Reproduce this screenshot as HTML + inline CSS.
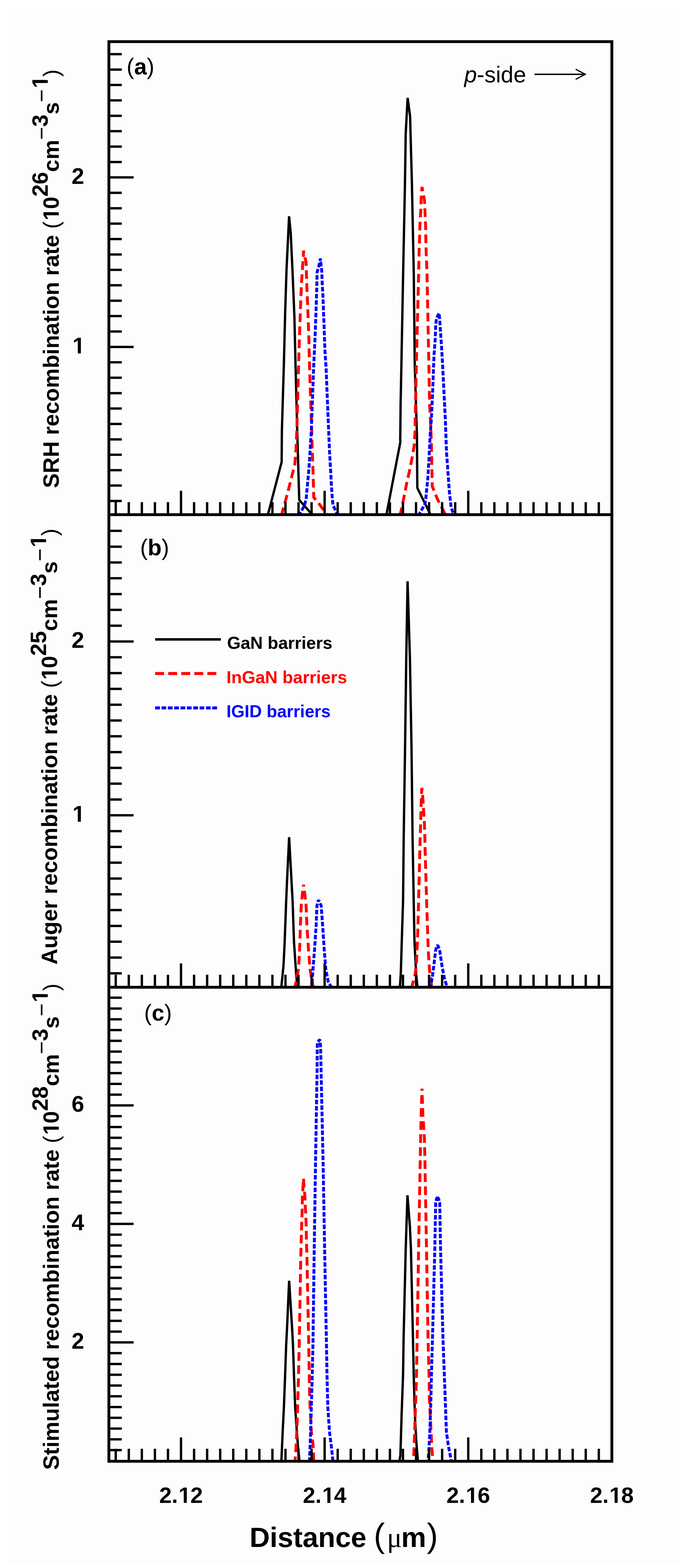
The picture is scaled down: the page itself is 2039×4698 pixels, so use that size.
<!DOCTYPE html>
<html><head><meta charset="utf-8"><title>Recombination rates</title>
<style>html,body{margin:0;padding:0;background:#fff;overflow:hidden;}svg{display:block;}</style>
</head><body>
<svg width="2039" height="4698" viewBox="0 0 2039 4698">
<rect width="100%" height="100%" fill="#fff"/>
<rect x="25" y="25" width="2009" height="4663" fill="#fdfdfd"/>
<defs>
<clipPath id="clipa"><rect x="326.0" y="124.8" width="1506.0" height="1417.2"/></clipPath>
<clipPath id="clipb"><rect x="326.0" y="1542.0" width="1506.0" height="1416.0"/></clipPath>
<clipPath id="clipc"><rect x="326.0" y="2958.0" width="1506.0" height="1420.1999999999998"/></clipPath>
</defs>
<g clip-path="url(#clipa)">
<polyline points="801.1,1546.0 843.3,1384.2 844.0,1290.0 849.7,1100.0 854.0,929.0 858.0,805.0 865.6,648.0 870.6,700.5 876.4,825.7 881.5,949.0 885.0,1100.0 889.9,1290.0 895.9,1497.7 938.2,1546.0" stroke="#000" stroke-width="7" fill="none" stroke-linejoin="bevel"/>
<polyline points="1156.2,1546.0 1157.8,1537.9 1198.8,1324.0 1198.3,1319.4 1199.5,1210.7 1201.9,1090.0 1207.0,820.0 1212.5,550.0 1214.7,400.7 1220.5,293.3 1227.8,347.6 1233.3,550.0 1238.9,820.0 1241.8,1090.0 1245.4,1210.7 1248.3,1300.0 1249.5,1461.8 1287.0,1537.9 1291.0,1546.0" stroke="#000" stroke-width="7" fill="none" stroke-linejoin="bevel"/>
<polyline points="843.0,1546.0 845.2,1533.9 854.9,1500.0 864.5,1463.9 875.4,1420.4 882.6,1391.4 886.3,1345.5 888.7,1290.0 893.9,1100.0 894.9,1062.0 898.0,969.7 901.0,887.4 903.0,843.6 905.2,812.0 906.3,792.0 908.6,772.0 908.6,751.0 912.5,768.0 916.4,785.5 917.5,821.0 918.6,854.8 921.7,928.6 924.7,1011.0 926.8,1100.0 933.3,1290.0 934.6,1338.3 937.0,1406.0 938.2,1444.6 939.4,1490.4 953.9,1507.3 966.0,1524.2 975.6,1536.3 983.0,1546.0" stroke="#ff0000" stroke-width="8.6" fill="none" stroke-dasharray="26 13.1" stroke-linejoin="bevel"/>
<polyline points="1197.4,1546.0 1198.8,1539.0 1201.2,1529.4 1209.7,1488.4 1216.9,1452.0 1225.4,1413.5 1233.8,1372.4 1239.9,1336.0 1242.3,1300.0 1244.2,1210.7 1246.6,1090.0 1253.4,820.0 1255.0,748.0 1256.3,709.4 1257.5,670.7 1259.9,632.0 1261.0,593.5 1263.5,560.0 1266.5,578.0 1270.7,598.3 1272.7,639.4 1274.4,678.0 1275.0,716.6 1276.0,755.3 1277.5,794.0 1278.5,820.0 1284.0,1090.0 1286.4,1210.7 1290.0,1283.0 1292.0,1348.0 1294.2,1457.0 1308.7,1493.0 1330.4,1535.4 1335.3,1546.0" stroke="#ff0000" stroke-width="8.6" fill="none" stroke-dasharray="26 13.1" stroke-linejoin="bevel"/>
<polyline points="893.8,1546.0 900.7,1533.9 910.4,1517.0 916.4,1497.7 920.0,1459.0 924.9,1406.0 928.5,1350.4 932.1,1290.0 939.1,1100.0 943.3,1011.0 946.3,928.6 948.4,866.9 949.4,815.4 954.6,797.0 959.6,774.3 961.0,792.0 963.4,812.0 964.5,843.6 966.9,887.4 970.0,969.7 973.0,1052.0 976.2,1100.0 984.0,1290.0 986.5,1350.4 990.0,1410.7 992.5,1459.0 995.0,1495.3 997.3,1514.6 1007.0,1533.9 1012.0,1546.0" stroke="#0000ff" stroke-width="8.6" fill="none" stroke-dasharray="13.6 5.2" stroke-linejoin="bevel"/>
<polyline points="1252.0,1546.0 1258.0,1535.4 1272.5,1510.0 1274.9,1493.2 1281.0,1432.8 1284.6,1372.4 1288.2,1300.0 1291.3,1259.0 1294.9,1186.6 1298.5,1090.0 1299.7,1061.5 1303.3,1013.0 1304.5,974.5 1307.0,952.8 1314.7,938.3 1316.6,957.6 1317.8,977.0 1320.2,1013.0 1322.7,1049.4 1325.0,1090.0 1329.9,1186.6 1333.5,1259.0 1336.0,1331.5 1337.2,1360.0 1340.0,1396.6 1345.0,1469.0 1351.0,1522.2 1355.8,1534.0 1360.0,1546.0" stroke="#0000ff" stroke-width="8.6" fill="none" stroke-dasharray="13.6 5.2" stroke-linejoin="bevel"/>
</g>
<g clip-path="url(#clipb)">
<polyline points="841.9,2963.0 842.8,2953.6 848.8,2893.2 852.4,2820.7 856.8,2700.0 859.4,2640.0 865.7,2508.3 872.8,2640.0 876.1,2700.0 880.2,2820.7 885.0,2893.0 888.7,2941.5 890.5,2963.0" stroke="#000" stroke-width="7" fill="none" stroke-linejoin="bevel"/>
<polyline points="1197.0,2963.0 1197.6,2953.6 1200.0,2917.3 1203.7,2796.6 1206.8,2700.0 1208.7,2510.0 1212.8,2240.0 1216.4,1970.0 1220.3,1741.5 1227.3,1970.0 1232.1,2240.0 1235.3,2510.0 1238.7,2700.0 1241.0,2820.7 1246.0,2917.3 1249.5,2953.6 1250.4,2963.0" stroke="#000" stroke-width="7" fill="none" stroke-linejoin="bevel"/>
<polyline points="908.7,2651.0 905.0,2682.0 902.0,2712.0 899.5,2772.4 897.1,2845.0 893.5,2905.3 883.8,2953.6 881.9,2963.0" stroke="#ff0000" stroke-width="8.6" fill="none" stroke-dasharray="26 13.1" stroke-linejoin="bevel" stroke-dashoffset="21.0"/>
<polyline points="908.7,2651.0 913.0,2682.0 916.4,2712.0 918.9,2772.4 923.7,2845.0 928.5,2905.3 937.0,2953.6 938.7,2963.0" stroke="#ff0000" stroke-width="8.6" fill="none" stroke-dasharray="26 13.1" stroke-linejoin="bevel" stroke-dashoffset="21.0"/>
<polyline points="908.1,2656.0 908.7,2651.0 909.4,2656.0" stroke="#ff0000" stroke-width="8.6" fill="none" stroke-linejoin="bevel" />
<polyline points="1231.3,2963.0 1233.8,2953.6 1243.5,2917.3 1247.0,2881.0 1250.7,2796.6 1251.5,2770.0 1257.5,2530.0 1258.7,2493.6 1259.9,2450.0 1261.0,2409.0 1263.0,2360.7 1265.9,2389.7 1268.3,2428.4 1270.7,2464.6 1272.0,2505.6 1272.7,2540.0 1277.3,2700.0 1279.7,2772.4 1282.1,2845.0 1285.8,2905.3 1289.4,2929.4 1293.0,2963.0" stroke="#ff0000" stroke-width="8.6" fill="none" stroke-dasharray="26 13.1" stroke-linejoin="bevel"/>
<polyline points="953.4,2696.7 951.5,2704.0 949.0,2713.0 946.6,2772.4 941.8,2845.0 937.0,2905.3 934.6,2941.5 933.2,2963.0" stroke="#0000ff" stroke-width="8.6" fill="none" stroke-dasharray="13.6 5.2" stroke-linejoin="bevel" stroke-dashoffset="7.8"/>
<polyline points="953.4,2696.7 957.0,2704.0 961.6,2713.0 966.0,2772.4 970.8,2845.0 975.6,2905.3 982.8,2941.5 990.0,2953.6 995.6,2963.0" stroke="#0000ff" stroke-width="8.6" fill="none" stroke-dasharray="13.6 5.2" stroke-linejoin="bevel" stroke-dashoffset="7.8"/>
<polyline points="951.9,2702.3 953.4,2696.7 956.0,2701.9" stroke="#0000ff" stroke-width="8.6" fill="none" stroke-linejoin="bevel" />
<polyline points="1287.5,2963.0 1289.4,2953.6 1294.2,2929.4 1299.0,2893.2 1303.9,2849.7 1306.5,2838.0 1310.0,2831.6 1313.5,2838.0 1317.2,2852.0 1323.2,2893.2 1330.4,2929.4 1336.5,2951.0 1339.0,2963.0" stroke="#0000ff" stroke-width="8.6" fill="none" stroke-dasharray="13.6 5.2" stroke-linejoin="bevel"/>
</g>
<g clip-path="url(#clipc)">
<polyline points="842.4,4380.0 842.8,4371.0 846.4,4289.0 850.0,4216.6 853.7,4120.0 856.8,4030.0 859.4,3980.0 865.7,3837.3 874.6,3980.0 877.2,4030.0 880.2,4120.0 883.8,4216.6 888.7,4289.0 893.5,4349.4 896.0,4371.0 897.0,4380.0" stroke="#000" stroke-width="7" fill="none" stroke-linejoin="bevel"/>
<polyline points="1196.8,4380.0 1197.0,4371.0 1198.8,4361.5 1202.4,4240.7 1206.8,4120.0 1208.4,4010.0 1214.8,3740.0 1220.0,3581.0 1227.3,3675.3 1230.3,3740.0 1236.5,4010.0 1238.7,4120.0 1242.3,4240.7 1246.0,4313.2 1250.7,4371.0 1251.4,4380.0" stroke="#000" stroke-width="7" fill="none" stroke-linejoin="bevel"/>
<polyline points="883.3,4380.0 883.8,4371.0 886.3,4337.3 888.7,4289.0 891.0,4216.6 893.5,4132.0 895.9,4030.0 900.7,3760.0 902.0,3712.0 903.2,3671.0 904.4,3635.0 905.6,3586.6 907.0,3560.0 908.7,3531.0 910.5,3560.0 912.8,3581.8 914.5,3622.8 916.4,3659.0 917.2,3700.0 918.1,3738.7 918.9,3760.0 924.4,4030.0 926.1,4132.0 927.3,4192.4 932.1,4289.0 937.0,4325.0 939.4,4371.0 940.0,4380.0" stroke="#ff0000" stroke-width="8.6" fill="none" stroke-dasharray="26 13.1" stroke-linejoin="bevel" stroke-dashoffset="10.0"/>
<polyline points="1263.5,3262.0 1261.0,3340.0 1259.4,3410.0 1258.3,3470.0 1253.4,3740.0 1249.0,4010.0 1247.1,4120.0 1244.7,4192.4 1242.3,4265.0 1239.9,4337.3 1238.7,4361.5 1238.5,4380.0" stroke="#ff0000" stroke-width="8.6" fill="none" stroke-dasharray="26 13.1" stroke-linejoin="bevel" stroke-dashoffset="20.0"/>
<polyline points="1263.5,3262.0 1266.0,3340.0 1270.7,3410.0 1272.2,3470.0 1277.0,3740.0 1281.6,4010.0 1284.6,4120.0 1285.8,4192.4 1289.4,4265.0 1293.0,4337.3 1295.4,4371.0 1296.0,4380.0" stroke="#ff0000" stroke-width="8.6" fill="none" stroke-dasharray="26 13.1" stroke-linejoin="bevel" stroke-dashoffset="20.0"/>
<polyline points="1263.3,3268.0 1263.5,3262.0 1263.7,3268.0" stroke="#ff0000" stroke-width="8.6" fill="none" stroke-linejoin="bevel" />
<polyline points="926.8,4380.0 927.3,4361.5 929.7,4301.0 932.1,4216.6 934.6,4132.0 937.0,4030.0 940.6,3760.0 944.6,3490.0 949.2,3220.0 950.2,3124.0 957.5,3114.2 960.0,3138.4 961.6,3220.0 967.5,3490.0 972.3,3760.0 977.5,4030.0 979.2,4127.2 981.6,4216.6 986.5,4289.0 992.5,4337.3 996.1,4371.0 997.5,4380.0" stroke="#0000ff" stroke-width="8.6" fill="none" stroke-dasharray="13.6 5.2" stroke-linejoin="bevel"/>
<polyline points="1310.0,3587.0 1307.0,3591.0 1304.5,3605.0 1301.9,3740.0 1294.9,4010.0 1291.8,4120.0 1289.4,4216.6 1287.0,4289.0 1284.6,4337.3 1282.1,4371.0 1281.8,4380.0" stroke="#0000ff" stroke-width="8.6" fill="none" stroke-dasharray="13.6 5.2" stroke-linejoin="bevel" stroke-dashoffset="1.8"/>
<polyline points="1310.0,3587.0 1313.0,3591.0 1316.6,3605.0 1319.0,3738.0 1326.3,4010.0 1330.4,4120.0 1334.0,4216.6 1336.5,4289.0 1342.5,4332.5 1349.8,4368.7 1351.5,4380.0" stroke="#0000ff" stroke-width="8.6" fill="none" stroke-dasharray="13.6 5.2" stroke-linejoin="bevel" stroke-dashoffset="1.8"/>
<polyline points="1305.8,3597.7 1310.0,3587.0 1314.7,3597.6" stroke="#0000ff" stroke-width="8.6" fill="none" stroke-linejoin="bevel" />
</g>
<path d="M346.55 1542.00V1504.50M385.64 1542.00V1504.50M424.73 1542.00V1504.50M463.82 1542.00V1504.50M502.91 1542.00V1504.50M542.00 1542.00V1470.50M581.09 1542.00V1504.50M620.18 1542.00V1504.50M659.27 1542.00V1504.50M698.36 1542.00V1504.50M737.45 1542.00V1504.50M776.55 1542.00V1504.50M815.64 1542.00V1504.50M854.73 1542.00V1504.50M893.82 1542.00V1504.50M932.91 1542.00V1504.50M972.00 1542.00V1470.50M1011.09 1542.00V1504.50M1050.18 1542.00V1504.50M1089.27 1542.00V1504.50M1128.36 1542.00V1504.50M1167.45 1542.00V1504.50M1206.55 1542.00V1504.50M1245.64 1542.00V1504.50M1284.73 1542.00V1504.50M1323.82 1542.00V1504.50M1362.91 1542.00V1504.50M1402.00 1542.00V1470.50M1441.09 1542.00V1504.50M1480.18 1542.00V1504.50M1519.27 1542.00V1504.50M1558.36 1542.00V1504.50M1597.45 1542.00V1504.50M1636.55 1542.00V1504.50M1675.64 1542.00V1504.50M1714.73 1542.00V1504.50M1753.82 1542.00V1504.50M1792.91 1542.00V1504.50M326.00 162.29H364.60M326.00 208.45H364.60M326.00 254.62H364.60M326.00 300.78H364.60M326.00 346.95H364.60M326.00 393.11H364.60M326.00 439.27H364.60M326.00 485.44H364.60M326.00 531.60H400.00M326.00 577.76H364.60M326.00 623.93H364.60M326.00 670.09H364.60M326.00 716.25H364.60M326.00 762.42H364.60M326.00 808.58H364.60M326.00 854.75H364.60M326.00 900.91H364.60M326.00 947.07H364.60M326.00 993.24H364.60M326.00 1039.40H400.00M326.00 1085.56H364.60M326.00 1131.73H364.60M326.00 1177.89H364.60M326.00 1224.05H364.60M326.00 1270.22H364.60M326.00 1316.38H364.60M326.00 1362.55H364.60M326.00 1408.71H364.60M326.00 1454.87H364.60M326.00 1501.04H364.60M346.55 2958.00V2920.50M385.64 2958.00V2920.50M424.73 2958.00V2920.50M463.82 2958.00V2920.50M502.91 2958.00V2920.50M542.00 2958.00V2886.50M581.09 2958.00V2920.50M620.18 2958.00V2920.50M659.27 2958.00V2920.50M698.36 2958.00V2920.50M737.45 2958.00V2920.50M776.55 2958.00V2920.50M815.64 2958.00V2920.50M854.73 2958.00V2920.50M893.82 2958.00V2920.50M932.91 2958.00V2920.50M972.00 2958.00V2886.50M1011.09 2958.00V2920.50M1050.18 2958.00V2920.50M1089.27 2958.00V2920.50M1128.36 2958.00V2920.50M1167.45 2958.00V2920.50M1206.55 2958.00V2920.50M1245.64 2958.00V2920.50M1284.73 2958.00V2920.50M1323.82 2958.00V2920.50M1362.91 2958.00V2920.50M1402.00 2958.00V2886.50M1441.09 2958.00V2920.50M1480.18 2958.00V2920.50M1519.27 2958.00V2920.50M1558.36 2958.00V2920.50M1597.45 2958.00V2920.50M1636.55 2958.00V2920.50M1675.64 2958.00V2920.50M1714.73 2958.00V2920.50M1753.82 2958.00V2920.50M1792.91 2958.00V2920.50M326.00 1590.58H364.60M326.00 1637.93H364.60M326.00 1685.27H364.60M326.00 1732.62H364.60M326.00 1779.96H364.60M326.00 1827.31H364.60M326.00 1874.65H364.60M326.00 1922.00H400.00M326.00 1969.35H364.60M326.00 2016.69H364.60M326.00 2064.04H364.60M326.00 2111.38H364.60M326.00 2158.73H364.60M326.00 2206.07H364.60M326.00 2253.42H364.60M326.00 2300.76H364.60M326.00 2348.11H364.60M326.00 2395.45H364.60M326.00 2442.80H400.00M326.00 2490.15H364.60M326.00 2537.49H364.60M326.00 2584.84H364.60M326.00 2632.18H364.60M326.00 2679.53H364.60M326.00 2726.87H364.60M326.00 2774.22H364.60M326.00 2821.56H364.60M326.00 2868.91H364.60M326.00 2916.25H364.60M346.55 4378.20V4340.70M385.64 4378.20V4340.70M424.73 4378.20V4340.70M463.82 4378.20V4340.70M502.91 4378.20V4340.70M542.00 4378.20V4306.70M581.09 4378.20V4340.70M620.18 4378.20V4340.70M659.27 4378.20V4340.70M698.36 4378.20V4340.70M737.45 4378.20V4340.70M776.55 4378.20V4340.70M815.64 4378.20V4340.70M854.73 4378.20V4340.70M893.82 4378.20V4340.70M932.91 4378.20V4340.70M972.00 4378.20V4306.70M1011.09 4378.20V4340.70M1050.18 4378.20V4340.70M1089.27 4378.20V4340.70M1128.36 4378.20V4340.70M1167.45 4378.20V4340.70M1206.55 4378.20V4340.70M1245.64 4378.20V4340.70M1284.73 4378.20V4340.70M1323.82 4378.20V4340.70M1362.91 4378.20V4340.70M1402.00 4378.20V4306.70M1441.09 4378.20V4340.70M1480.18 4378.20V4340.70M1519.27 4378.20V4340.70M1558.36 4378.20V4340.70M1597.45 4378.20V4340.70M1636.55 4378.20V4340.70M1675.64 4378.20V4340.70M1714.73 4378.20V4340.70M1753.82 4378.20V4340.70M1792.91 4378.20V4340.70M326.00 2989.37H364.60M326.00 3021.65H364.60M326.00 3053.92H364.60M326.00 3086.19H364.60M326.00 3118.46H364.60M326.00 3150.74H364.60M326.00 3183.01H364.60M326.00 3215.28H364.60M326.00 3247.55H364.60M326.00 3279.83H364.60M326.00 3312.10H400.00M326.00 3344.37H364.60M326.00 3376.65H364.60M326.00 3408.92H364.60M326.00 3441.19H364.60M326.00 3473.46H364.60M326.00 3505.74H364.60M326.00 3538.01H364.60M326.00 3570.28H364.60M326.00 3602.55H364.60M326.00 3634.83H364.60M326.00 3667.10H400.00M326.00 3699.37H364.60M326.00 3731.65H364.60M326.00 3763.92H364.60M326.00 3796.19H364.60M326.00 3828.46H364.60M326.00 3860.74H364.60M326.00 3893.01H364.60M326.00 3925.28H364.60M326.00 3957.55H364.60M326.00 3989.83H364.60M326.00 4022.10H400.00M326.00 4054.37H364.60M326.00 4086.65H364.60M326.00 4118.92H364.60M326.00 4151.19H364.60M326.00 4183.46H364.60M326.00 4215.74H364.60M326.00 4248.01H364.60M326.00 4280.28H364.60M326.00 4312.55H364.60M326.00 4344.83H364.60" stroke="#000" stroke-width="7.0" fill="none"/>
<path d="M326.0 124.8V4378.2M1832.0 124.8V4378.2M321.75 124.8H1836.25M326.0 1542.0H1832.0M326.0 2958.0H1832.0M321.75 4378.2H1836.25" stroke="#000" stroke-width="8.5" fill="none"/>
<g font-family="'Liberation Sans', Arial, Helvetica, sans-serif" font-weight="bold" fill="#000">
<text x="217.0" y="1058.7" font-size="68">1</text>
<text x="252" y="550.9" font-size="68" text-anchor="end">2</text>
<text x="217.0" y="2462.1" font-size="68">1</text>
<text x="252" y="1941.3" font-size="68" text-anchor="end">2</text>
<text x="252" y="4041.4" font-size="68" text-anchor="end">2</text>
<text x="252" y="3686.4" font-size="68" text-anchor="end">4</text>
<text x="252" y="3331.4" font-size="68" text-anchor="end">6</text>
<text x="476.81" y="4503.3" font-size="67">2.<tspan x="534.49">1</tspan><tspan x="569.94">2</tspan></text>
<text x="906.81" y="4503.3" font-size="67">2.<tspan x="964.49">1</tspan><tspan x="999.94">4</tspan></text>
<text x="1336.81" y="4503.3" font-size="67">2.<tspan x="1394.49">1</tspan><tspan x="1429.94">6</tspan></text>
<text x="1766.81" y="4503.3" font-size="67">2.<tspan x="1824.49">1</tspan><tspan x="1859.94">8</tspan></text>
<text x="379" y="223.4" font-size="68"><tspan font-weight="normal">(</tspan>a<tspan font-weight="normal">)</tspan></text>
<text x="419.6" y="1664.1" font-size="68"><tspan font-weight="normal">(</tspan>b<tspan font-weight="normal">)</tspan></text>
<text x="431.6" y="3058" font-size="68"><tspan font-weight="normal">(</tspan>c<tspan font-weight="normal">)</tspan></text>
<text x="747.2" y="4634.5" font-size="84">Distance<tspan x="1119" font-size="100" font-weight="normal">(</tspan><tspan x="1158.5" font-family="'Liberation Serif', serif" font-weight="normal">μ</tspan><tspan x="1201.3">m</tspan><tspan x="1278" font-size="100" font-weight="normal">)</tspan></text>
<text id="ta" transform="translate(175.8,1462.6) rotate(-90)" font-size="66.6">SRH recombination rate <tspan font-weight="normal">(</tspan><tspan dx="2.74">1</tspan><tspan dx="-2.74">0</tspan><tspan dy="-33">26</tspan><tspan dy="33">cm</tspan><tspan dy="-28.7" font-weight="normal">−</tspan><tspan dy="-4.3">3</tspan><tspan dy="33">s</tspan><tspan dy="-28.7" font-weight="normal">−</tspan><tspan dy="-4.3" dx="2.74">1</tspan><tspan dy="33" dx="-2.74" font-weight="normal">)</tspan></text>
<text id="tb" transform="translate(171.0,2890.2) rotate(-90)" font-size="66.6">Auger recombination rate <tspan font-weight="normal">(</tspan><tspan dx="2.74">1</tspan><tspan dx="-2.74">0</tspan><tspan dy="-33">25</tspan><tspan dy="33">cm</tspan><tspan dy="-28.7" font-weight="normal">−</tspan><tspan dy="-4.3">3</tspan><tspan dy="33">s</tspan><tspan dy="-28.7" font-weight="normal">−</tspan><tspan dy="-4.3" dx="2.74">1</tspan><tspan dy="33" dx="-2.74" font-weight="normal">)</tspan></text>
<text id="tc" transform="translate(175.8,4404.0) rotate(-90)" font-size="66.73">Stimulated recombination rate <tspan font-weight="normal">(</tspan><tspan dx="2.75">1</tspan><tspan dx="-2.75">0</tspan><tspan dy="-33">28</tspan><tspan dy="33">cm</tspan><tspan dy="-28.7" font-weight="normal">−</tspan><tspan dy="-4.3">3</tspan><tspan dy="33">s</tspan><tspan dy="-28.7" font-weight="normal">−</tspan><tspan dy="-4.3" dx="2.75">1</tspan><tspan dy="33" dx="-2.75" font-weight="normal">)</tspan></text>
<text x="680" y="1943.9" font-size="52">GaN barriers</text>
<text x="678" y="2046.6" font-size="52" fill="#ff0000">InGaN barriers</text>
<text x="678" y="2149.2" font-size="51.5" fill="#0000ff">IGID barriers</text>
</g>
<g transform="translate(175.8,1462.6) rotate(-90)"><rect x="805.16" y="-7.64" width="12.54" height="8.42" fill="#fdfdfd"/><rect x="826.51" y="-7.64" width="12.24" height="8.42" fill="#fdfdfd"/></g>
<g transform="translate(175.8,1462.6) rotate(-90)"><rect x="1201.45" y="-40.64" width="12.54" height="8.42" fill="#fdfdfd"/><rect x="1222.80" y="-40.64" width="12.24" height="8.42" fill="#fdfdfd"/></g>
<g transform="translate(171.0,2890.2) rotate(-90)"><rect x="856.95" y="-7.64" width="12.54" height="8.42" fill="#fdfdfd"/><rect x="878.30" y="-7.64" width="12.24" height="8.42" fill="#fdfdfd"/></g>
<g transform="translate(171.0,2890.2) rotate(-90)"><rect x="1253.25" y="-40.64" width="12.54" height="8.42" fill="#fdfdfd"/><rect x="1274.60" y="-40.64" width="12.24" height="8.42" fill="#fdfdfd"/></g>
<g transform="translate(175.8,4404.0) rotate(-90)"><rect x="1006.84" y="-7.65" width="12.56" height="8.44" fill="#fdfdfd"/><rect x="1028.24" y="-7.65" width="12.27" height="8.44" fill="#fdfdfd"/></g>
<g transform="translate(175.8,4404.0) rotate(-90)"><rect x="1403.87" y="-40.65" width="12.56" height="8.44" fill="#fdfdfd"/><rect x="1425.27" y="-40.65" width="12.27" height="8.44" fill="#fdfdfd"/></g>
<rect x="220.19" y="1050.90" width="12.80" height="8.60" fill="#fdfdfd"/>
<rect x="241.99" y="1050.90" width="12.50" height="8.60" fill="#fdfdfd"/>
<rect x="220.19" y="2454.30" width="12.80" height="8.60" fill="#fdfdfd"/>
<rect x="241.99" y="2454.30" width="12.50" height="8.60" fill="#fdfdfd"/>
<rect x="537.64" y="4495.61" width="12.61" height="8.47" fill="#fdfdfd"/>
<rect x="559.12" y="4495.61" width="12.32" height="8.47" fill="#fdfdfd"/>
<rect x="967.64" y="4495.61" width="12.61" height="8.47" fill="#fdfdfd"/>
<rect x="989.12" y="4495.61" width="12.32" height="8.47" fill="#fdfdfd"/>
<rect x="1397.64" y="4495.61" width="12.61" height="8.47" fill="#fdfdfd"/>
<rect x="1419.12" y="4495.61" width="12.32" height="8.47" fill="#fdfdfd"/>
<rect x="1827.64" y="4495.61" width="12.61" height="8.47" fill="#fdfdfd"/>
<rect x="1849.12" y="4495.61" width="12.32" height="8.47" fill="#fdfdfd"/>
<path d="M464.5 1915.7H661.3" stroke="#000" stroke-width="7.5"/>
<path d="M464.5 2018.1H648" stroke="#ff0000" stroke-width="9" stroke-dasharray="26.8 12.3"/>
<path d="M464.5 2121H650.1" stroke="#0000ff" stroke-width="9" stroke-dasharray="14.3 4.7"/>
<text x="1390" y="247" font-family="'Liberation Sans', Arial, Helvetica, sans-serif" font-size="68"><tspan font-style="italic">p</tspan>-side</text>
<path d="M1600.4 222.6H1751" stroke="#000" stroke-width="4.2"/>
<path d="M1723.6 207.4L1752.5 222.6L1723.6 237.6" stroke="#000" stroke-width="3.6" fill="none" stroke-miterlimit="3"/>
</svg>
</body></html>
